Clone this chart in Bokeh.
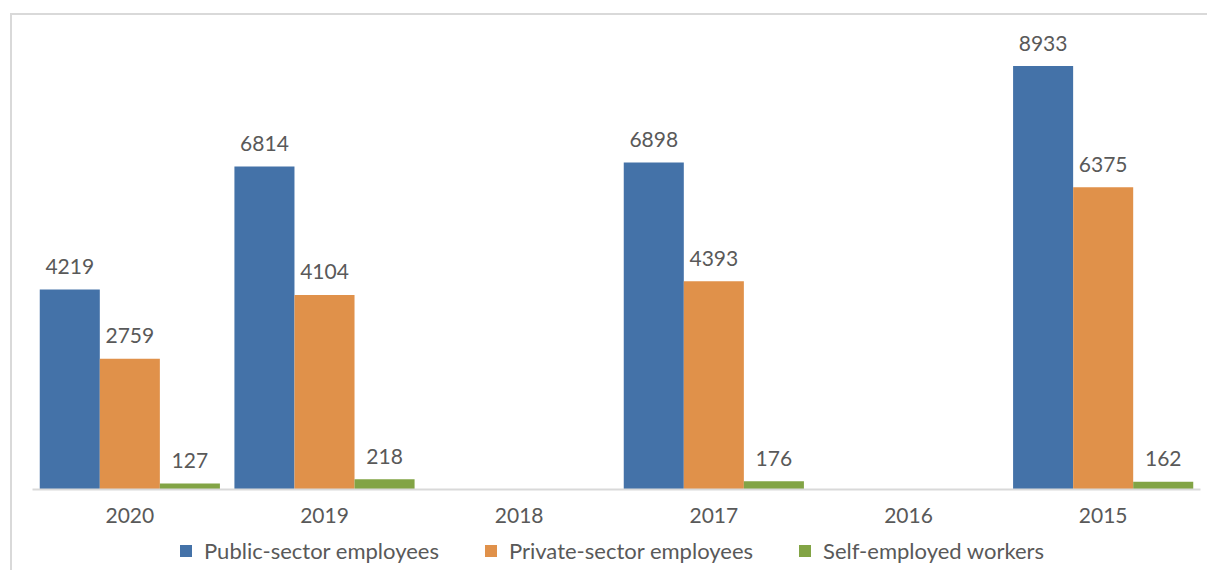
from bokeh.plotting import figure
from bokeh.models import ColumnDataSource, FactorRange, Range1d, Legend, LegendItem
from bokeh.layouts import column
from bokeh.transform import dodge
from bokeh.core.properties import value
from bokeh.embed import file_html
from bokeh.resources import INLINE

years = ["2020", "2019", "2018", "2017", "2016", "2015"]
public = [4219, 6814, None, 6898, None, 8933]
private = [2759, 4104, None, 4393, None, 6375]
self_emp = [127, 218, None, 176, None, 162]
series_names = ["Public-sector employees", "Private-sector employees", "Self-employed workers"]
colors = ["#4472A8", "#E0914A", "#82A445"]

FONT = "Lato"
GRAY = "#595959"

p = figure(x_range=FactorRange(*years, range_padding=0), y_range=Range1d(0, 10000),
           width=1195, height=515, output_backend="svg", toolbar_location=None,
           min_border_left=20, min_border_right=7, min_border_top=0, min_border_bottom=41)
p.outline_line_color = None
p.xgrid.grid_line_color = None
p.ygrid.grid_line_color = None
p.yaxis.visible = False

bw = 0.3085
offsets = [-bw, 0.0, bw]
for vals, col, off in zip([public, private, self_emp], colors, offsets):
    xs = [y for y, v in zip(years, vals) if v is not None]
    vs = [v for v in vals if v is not None]
    src = ColumnDataSource(dict(x=xs, v=vs, t=[str(v) for v in vs]))
    p.vbar(x=dodge("x", off, range=p.x_range), top="v", width=bw, source=src,
           fill_color=col, line_color=None)
    p.text(x=dodge("x", off, range=p.x_range), y="v", text="t", source=src,
           text_align="center", text_baseline="alphabetic", y_offset=-23,
           text_font=value(FONT), text_font_size="21px", text_color=GRAY)

ax = p.xaxis[0]
ax.axis_line_color = "#d9d9d9"
ax.axis_line_width = 2
ax.major_tick_line_color = None
ax.minor_tick_line_color = None
ax.major_label_text_font = FONT
ax.major_label_text_font_size = "21px"
ax.major_label_text_color = GRAY
ax.major_label_standoff = 12

# legend strip (swatch glyphs sit outside the visible range; only the legend shows)
q = figure(width=1195, height=40, x_range=Range1d(0, 1), y_range=Range1d(0, 1),
           output_backend="svg", toolbar_location=None,
           min_border_left=0, min_border_right=0, min_border_top=0, min_border_bottom=0)
q.axis.visible = False
q.grid.visible = False
q.outline_line_color = None
items = []
for name, col in zip(series_names, colors):
    r = q.quad(left=[-10], right=[-9], bottom=[-10], top=[-9], fill_color=col, line_color=None)
    items.append(LegendItem(label=name, renderers=[r]))
legend = Legend(items=items, orientation="horizontal", location=(146, 6),
                label_text_font=FONT, label_text_font_size="22px", label_text_color=GRAY,
                glyph_width=15, glyph_height=15, label_standoff=11, spacing=44,
                border_line_color=None, background_fill_alpha=0, padding=0, margin=0)
q.add_layout(legend, "center")

layout = column(p, q, spacing=0)
layout.styles = {"border-left": "2px solid #d9d9d9", "border-top": "2px solid #d9d9d9",
                 "margin-left": "10px", "margin-top": "13px"}

open("out.html", "w").write(file_html(layout, INLINE))
